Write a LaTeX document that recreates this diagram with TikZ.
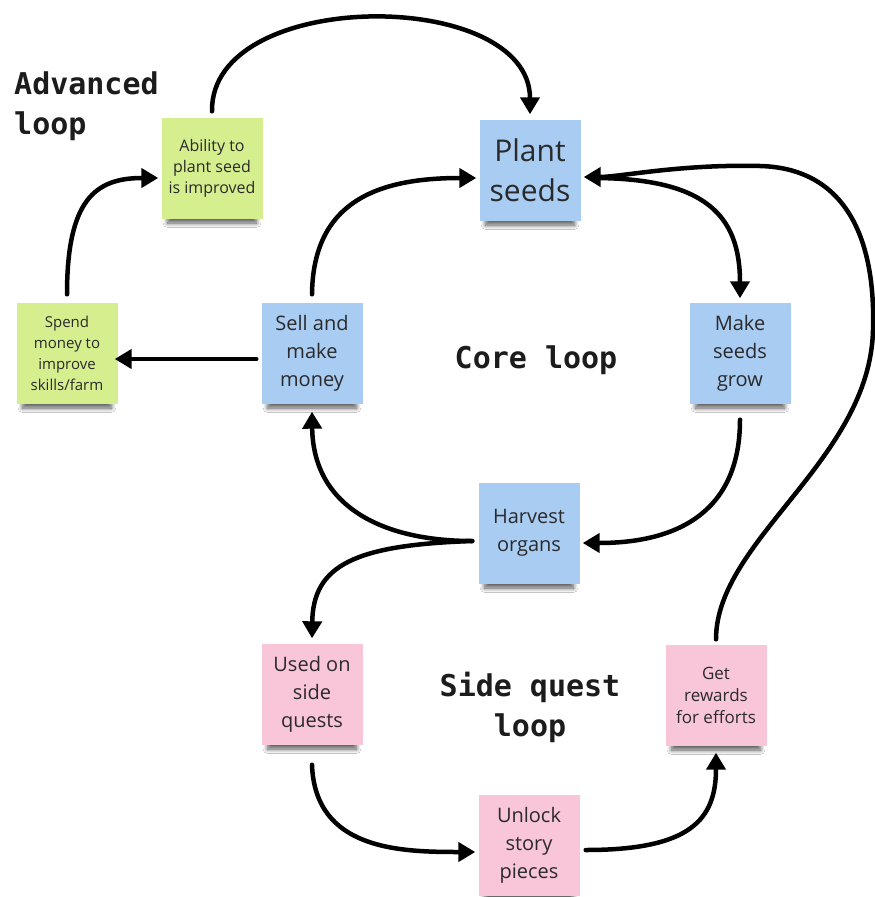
\documentclass[tikz,border=0pt]{standalone}
\usepackage{fontspec}
\setmainfont{Open Sans}
\newfontfamily\loopfont{DejaVu Sans Mono}
\usetikzlibrary{arrows.meta,shadows.blur}

\definecolor{notegreen}{HTML}{D5EF8F}
\definecolor{noteblue}{HTML}{A9CCF3}
\definecolor{notepink}{HTML}{F9C6D9}
\definecolor{notetext}{HTML}{2A2A2A}
\definecolor{titletext}{HTML}{1C1C1C}

\tikzset{
  sticky/.style={
    minimum width=101pt, minimum height=101pt, inner sep=2pt,
    align=center, text=notetext, draw=none,
    blur shadow={shadow xshift=0pt, shadow yshift=-12pt, shadow scale=0.88,
                 shadow blur radius=5pt, shadow blur steps=10, shadow opacity=65}},
  greennote/.style={sticky, fill=notegreen},
  bluenote/.style={sticky, fill=noteblue},
  pinknote/.style={sticky, fill=notepink},
  midtext/.style={font=\fontsize{20}{28}\selectfont},
  bigtext/.style={font=\fontsize{30}{40}\selectfont},
  looplabel/.style={font=\loopfont\bfseries\fontsize{30}{40}\selectfont,
                    text=titletext, inner sep=0pt},
  flow/.style={line width=4.5pt, line cap=round,
               -{Triangle[length=17pt,width=19pt]}}
}

\begin{document}
\begin{tikzpicture}[x=1pt,y=-1pt]
  \useasboundingbox[fill=white] (0,0) rectangle (875,897);

  % loop titles
  \node[looplabel, anchor=north west, align=left] (advtitle) at (14,72) {Advanced\\loop};
  \node[looplabel, align=center] (coretitle) at (536,360) {Core loop};
  \node[looplabel, align=center] (sidetitle) at (530,707) {Side quest\\loop};

  % sticky notes
  \node[greennote, font=\fontsize{16}{21}\selectfont] (ability) at (212,168) {Ability to\\plant seed\\is improved};
  \node[bluenote, bigtext]    (plant)   at (530,170) {Plant\\seeds};
  \node[greennote, font=\fontsize{15}{21}\selectfont] (spend) at (67,353) {Spend\\money to\\improve\\skills/farm};
  \node[bluenote, midtext]    (sell)    at (312,353) {Sell and\\make\\money};
  \node[bluenote, midtext]    (grow)    at (740,353) {Make\\seeds\\grow};
  \node[bluenote, midtext]    (harvest) at (529,533) {Harvest\\organs};
  \node[pinknote, midtext]    (used)    at (312,694) {Used on\\side\\quests};
  \node[pinknote, font=\fontsize{17}{22}\selectfont] (reward) at (716,695) {Get\\rewards\\for efforts};
  \node[pinknote, midtext]    (unlock)  at (529,845) {Unlock\\story\\pieces};

  % connectors
  \draw[flow] ([yshift=6pt]ability.north) .. controls (210,-13) and (530,-13) .. ([yshift=5pt]plant.north);
  \draw[flow] ([yshift=8pt]spend.north) .. controls (67,200) and (95,178) .. ([xshift=-3pt,yshift=-10pt]ability.west);
  \draw[flow] ([xshift=-5pt,yshift=-6pt]sell.west) -- ([xshift=-3pt,yshift=-6pt]spend.east);
  \draw[flow] ([yshift=8pt]sell.north) .. controls (313,200) and (380,178) .. ([xshift=-3pt,yshift=-8pt]plant.west);
  \draw[flow] ([xshift=12pt,yshift=-8pt]plant.east) .. controls (705,178) and (740,215) .. ([yshift=4pt]grow.north);
  \draw[flow] ([yshift=-16pt]grow.south) .. controls (740,510) and (680,543) .. ([xshift=3pt,yshift=-10pt]harvest.east);
  \draw[flow] ([xshift=-6pt,yshift=-8pt]harvest.west) .. controls (380,541) and (313,505) .. ([yshift=-8pt]sell.south);
  \draw[flow] ([xshift=-6pt,yshift=-8pt]harvest.west) .. controls (355,545) and (313,565) .. ([yshift=5pt]used.north);
  \draw[flow] ([yshift=-20pt]used.south) .. controls (315,850) and (400,852) .. ([xshift=-3pt,yshift=-7pt]unlock.west);
  \draw[flow] ([xshift=6pt,yshift=-5pt]unlock.east) .. controls (690,850) and (716,820) .. ([yshift=-7pt]reward.south);
  \draw[flow] ([yshift=5pt]reward.north) .. controls (716,540) and (870,460) .. (873,330)
              .. controls (876,230) and (840,168) .. (760,166)
              .. controls (680,164) and (620,177) .. ([xshift=3pt,yshift=-7pt]plant.east);
\end{tikzpicture}
\end{document}
